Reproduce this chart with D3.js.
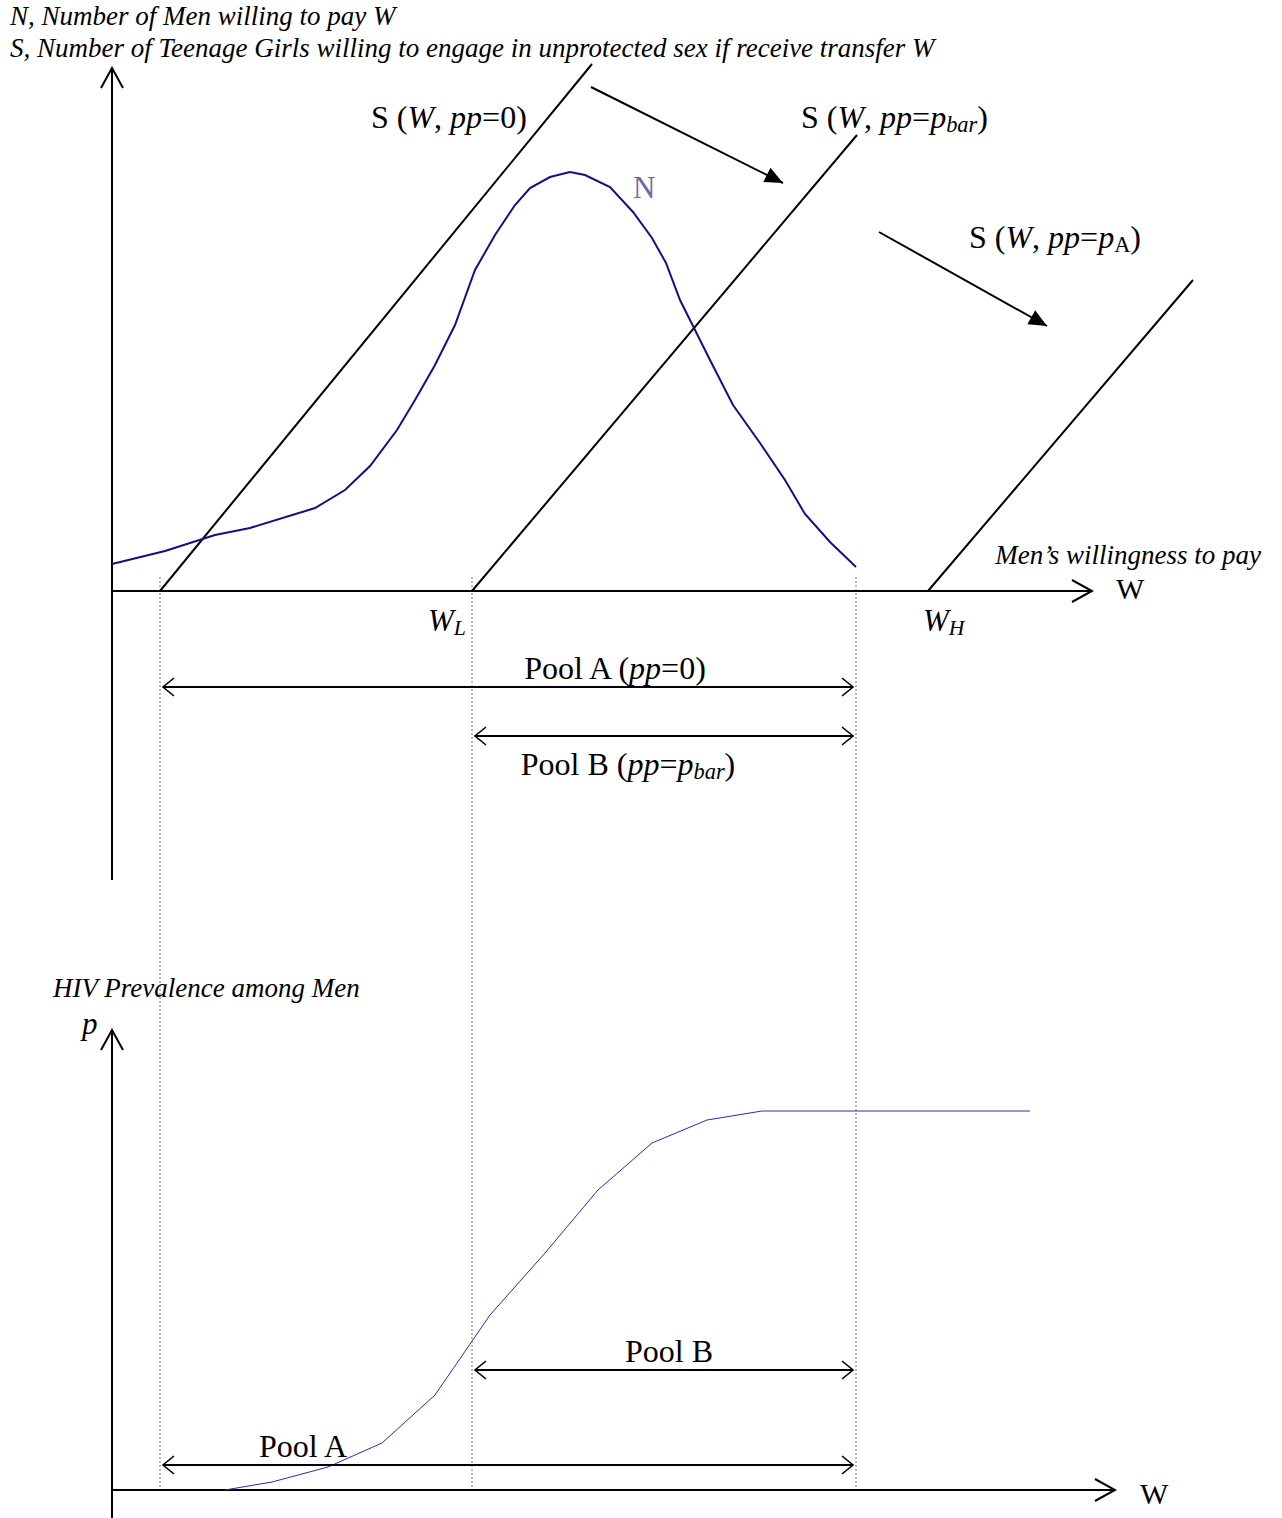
<!DOCTYPE html>
<html>
<head>
<meta charset="utf-8">
<script src="https://cdn.jsdelivr.net/npm/d3@7"></script>
<style>
  body { margin: 0; background: #fff; }
  text { font-family: "Liberation Serif", "Times New Roman", serif; fill: #000; }
</style>
</head>
<body>
<svg></svg>
<script>
// demand curve N (men willing to pay W)
const nW     = [0, 5.3, 10.3, 13.8, 20.3, 23.3, 25.8, 28.5, 30.3, 32.3, 34.3, 36.3, 38.3, 40.3, 41.8, 43.8, 45.8, 47.3, 49.8, 52.1, 54, 55.4, 56.8, 58.3, 59.8, 62.1, 64.8, 67.3, 69.3, 71.8, 74.4];
const nCount = [5.4, 8, 11.2, 12.6, 16.6, 20.2, 25, 32.2, 38.2, 45.2, 53.2, 64.2, 71.2, 77.2, 80.6, 82.8, 83.8, 83.2, 80.8, 75.8, 70.6, 65.6, 58.2, 52.2, 46.2, 37.2, 29.6, 22.2, 15.4, 9.8, 4.8];

// supply lines S(W, pp)
const supplyStartW = [4.8, 36, 81.6];
const supplyEndW   = [48, 74.5, 108.1];
const supplyEndS   = [105.4, 91.2, 62.2];

// HIV prevalence p(W) among men
const pW   = [11.3, 16, 21.6, 27, 32.3, 37.8, 43.3, 48.6, 54, 59.5, 65, 91.8];
const pVal = [0, 2, 5.75, 11.75, 23.75, 43.75, 59.25, 75, 86.75, 92.5, 94.75, 94.75];

// key wage levels (dotted guides) and pools
const guideW = [4.8, 36, 74.4];
const poolStartW = [4.8, 36];
const poolEndW   = [74.4, 74.4];

// shift arrows (W0, S0, W1, S1)
const shiftFromW = [47.9, 76.7], shiftFromS = [100.8, 71.8];
const shiftToW   = [67.1, 93.5], shiftToS   = [81.6, 53];

const svg = d3.select("svg").attr("width", 1282).attr("height", 1518);

const x = d3.scaleLinear().domain([0, 100]).range([112, 1112]);
const yTop = d3.scaleLinear().domain([0, 100]).range([591, 91]);
const yBot = d3.scaleLinear().domain([0, 100]).range([1490, 1090]);

// markers
const defs = svg.append("defs");
function chevron(id, len, half, sw) {
  defs.append("marker")
    .attr("id", id)
    .attr("markerUnits", "userSpaceOnUse")
    .attr("viewBox", `${-len - 2} ${-half - 2} ${len + 4} ${2 * half + 4}`)
    .attr("refX", 0).attr("refY", 0)
    .attr("markerWidth", len + 4).attr("markerHeight", 2 * half + 4)
    .attr("orient", "auto-start-reverse")
    .append("path")
    .attr("d", `M${-len},${-half} L0,0 L${-len},${half}`)
    .attr("fill", "none").attr("stroke", "#000").attr("stroke-width", sw);
}
chevron("axisHead", 20, 11, 2);
chevron("poolHead", 11, 9, 1.6);
defs.append("marker")
  .attr("id", "solidHead")
  .attr("markerUnits", "userSpaceOnUse")
  .attr("viewBox", "-20 -9 22 18")
  .attr("refX", 0).attr("refY", 0)
  .attr("markerWidth", 22).attr("markerHeight", 18)
  .attr("orient", "auto")
  .append("path").attr("d", "M-18,-8 L0,0 L-18,8 Z").attr("fill", "#000");

// dotted guides
svg.append("g").selectAll("line").data(guideW).join("line")
  .attr("x1", d => x(d)).attr("x2", d => x(d))
  .attr("y1", yTop(2.8)).attr("y2", yBot(0))
  .attr("stroke", "#777").attr("stroke-width", 1).attr("stroke-dasharray", "2,2");

// ---------- top panel ----------
// axes
svg.append("line").attr("x1", x(0)).attr("x2", x(0)).attr("y1", yTop(-57.8)).attr("y2", yTop(104.6))
  .attr("stroke", "#000").attr("stroke-width", 2).attr("marker-end", "url(#axisHead)");
svg.append("line").attr("x1", x(0)).attr("x2", x(98)).attr("y1", yTop(0)).attr("y2", yTop(0))
  .attr("stroke", "#000").attr("stroke-width", 2).attr("marker-end", "url(#axisHead)");

// supply lines
svg.append("g").selectAll("line").data(supplyStartW).join("line")
  .attr("x1", d => x(d)).attr("y1", yTop(0))
  .attr("x2", (d, i) => x(supplyEndW[i])).attr("y2", (d, i) => yTop(supplyEndS[i]))
  .attr("stroke", "#000").attr("stroke-width", 2);

// shift arrows
svg.append("g").selectAll("line").data(shiftFromW).join("line")
  .attr("x1", d => x(d)).attr("y1", (d, i) => yTop(shiftFromS[i]))
  .attr("x2", (d, i) => x(shiftToW[i])).attr("y2", (d, i) => yTop(shiftToS[i]))
  .attr("stroke", "#000").attr("stroke-width", 2).attr("marker-end", "url(#solidHead)");

// N curve
const nLine = d3.line().x(d => x(d[0])).y(d => yTop(d[1]));
svg.append("path").datum(nW.map((w, i) => [w, nCount[i]]))
  .attr("d", nLine).attr("fill", "none").attr("stroke", "#10108a").attr("stroke-width", 2);

// pool arrows (top)
const poolTopY = [-19.2, -29];
svg.append("g").selectAll("line").data(poolStartW).join("line")
  .attr("x1", d => x(d) + 3).attr("x2", (d, i) => x(poolEndW[i]) - 3)
  .attr("y1", (d, i) => yTop(poolTopY[i])).attr("y2", (d, i) => yTop(poolTopY[i]))
  .attr("stroke", "#000").attr("stroke-width", 2)
  .attr("marker-start", "url(#poolHead)").attr("marker-end", "url(#poolHead)");

// ---------- bottom panel ----------
svg.append("line").attr("x1", x(0)).attr("x2", x(0)).attr("y1", yBot(-7)).attr("y2", yBot(115))
  .attr("stroke", "#000").attr("stroke-width", 2).attr("marker-end", "url(#axisHead)");
svg.append("line").attr("x1", x(0)).attr("x2", x(100.3)).attr("y1", yBot(0)).attr("y2", yBot(0))
  .attr("stroke", "#000").attr("stroke-width", 2).attr("marker-end", "url(#axisHead)");

const pLine = d3.line().x(d => x(d[0])).y(d => yBot(d[1]));
svg.append("path").datum(pW.map((w, i) => [w, pVal[i]]))
  .attr("d", pLine).attr("fill", "none").attr("stroke", "#2a2ab8").attr("stroke-width", 1);

const poolBotY = [6.25, 30];
svg.append("g").selectAll("line").data(poolStartW).join("line")
  .attr("x1", d => x(d) + 3).attr("x2", (d, i) => x(poolEndW[i]) - 3)
  .attr("y1", (d, i) => yBot(poolBotY[i])).attr("y2", (d, i) => yBot(poolBotY[i]))
  .attr("stroke", "#000").attr("stroke-width", 2)
  .attr("marker-start", "url(#poolHead)").attr("marker-end", "url(#poolHead)");

// ---------- text ----------
function label(px, py, parts, size, anchor) {
  const t = svg.append("text").attr("x", px).attr("y", py)
    .attr("font-size", size).attr("text-anchor", anchor || "start");
  parts.forEach(p => {
    const s = t.append("tspan").text(p.t);
    if (p.i) s.attr("font-style", "italic");
    if (p.sub) s.attr("font-size", size * 0.7).attr("dy", 4);
    if (p.up) s.attr("dy", -4);
    if (p.fill) s.attr("fill", p.fill);
  });
  return t;
}

label(10, 25, [{ t: "N, Number of Men willing to pay W", i: 1 }], 27);
label(10, 57, [{ t: "S, Number of Teenage Girls willing to engage in unprotected sex if receive transfer W", i: 1 }], 27);

label(371, 128, [{ t: "S (" }, { t: "W", i: 1 }, { t: ", " }, { t: "pp", i: 1 }, { t: "=0)" }], 32);
label(801, 128, [{ t: "S (" }, { t: "W", i: 1 }, { t: ", " }, { t: "pp", i: 1 }, { t: "=" }, { t: "p", i: 1 }, { t: "bar", i: 1, sub: 1 }, { t: ")", up: 1 }], 32);
label(969, 248, [{ t: "S (" }, { t: "W", i: 1 }, { t: ", " }, { t: "pp", i: 1 }, { t: "=" }, { t: "p", i: 1 }, { t: "A", sub: 1 }, { t: ")", up: 1 }], 32);
label(633, 198, [{ t: "N", fill: "#6a6aa8" }], 31);

label(428, 631, [{ t: "W", i: 1 }, { t: "L", i: 1, sub: 1 }], 31);
label(923, 631, [{ t: "W", i: 1 }, { t: "H", i: 1, sub: 1 }], 31);
label(1261, 564, [{ t: "Men\u2019s willingness to pay", i: 1 }], 27, "end");
label(1116, 599, [{ t: "W" }], 30);

label(615, 679, [{ t: "Pool A (" }, { t: "pp", i: 1 }, { t: "=0)" }], 32, "middle");
label(628, 775, [{ t: "Pool B (" }, { t: "pp", i: 1 }, { t: "=" }, { t: "p", i: 1 }, { t: "bar", i: 1, sub: 1 }, { t: ")", up: 1 }], 32, "middle");

label(53, 997, [{ t: "HIV Prevalence among Men", i: 1 }], 27);
label(82, 1034, [{ t: "p", i: 1 }], 31);
label(1140, 1504, [{ t: "W" }], 30);
label(669, 1362, [{ t: "Pool B" }], 32, "middle");
label(303, 1457, [{ t: "Pool A" }], 32, "middle");
label(520, 1538, [{ t: "37" }], 30, "middle");
</script>
</body>
</html>
